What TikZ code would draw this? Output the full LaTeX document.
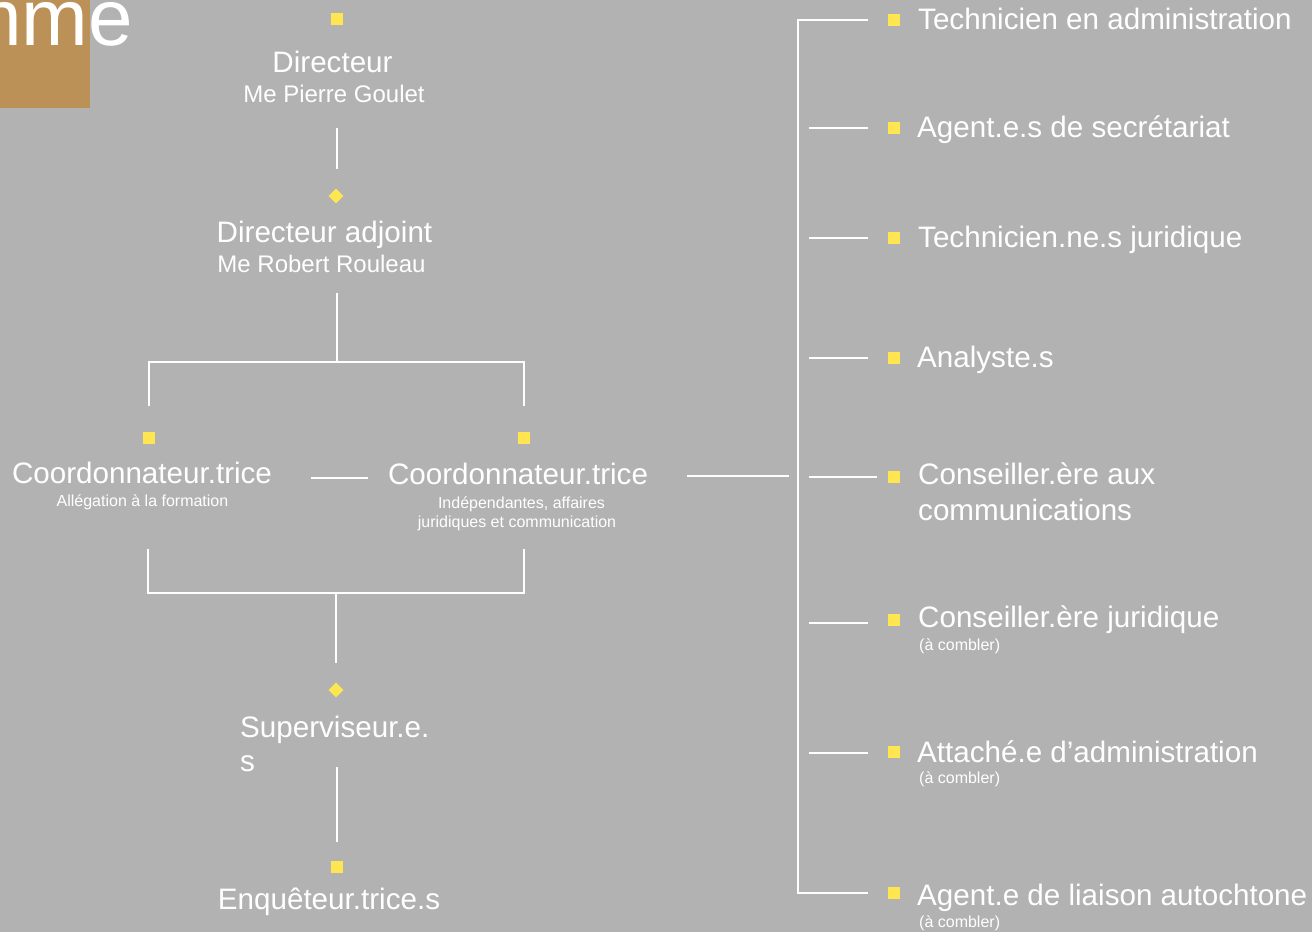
\documentclass[tikz,border=0pt]{standalone}
\usepackage{fontspec}
\setmainfont{Liberation Sans}
\usetikzlibrary{shapes.geometric}
\usetikzlibrary{positioning}

\definecolor{fond}{RGB}{178,178,178}
\definecolor{puce}{RGB}{255,230,80}
\definecolor{cuivre}{RGB}{188,145,88}

\begin{document}
\begin{tikzpicture}[x=1pt,y=-1pt]
        \tikzset{
          trait/.style={draw=white, line width=2.2pt},
          carre/.style={rectangle, fill=puce, inner sep=0pt, minimum size=12pt},
          losange/.style={diamond, fill=puce, inner sep=0pt, minimum size=15pt},
          titre/.style={text=white, inner sep=0pt, anchor=base, font=\fontsize{29.6}{35}\selectfont},
          nom/.style={text=white, inner sep=0pt, anchor=base, font=\fontsize{24}{28}\selectfont},
          note/.style={text=white, inner sep=0pt, anchor=base, font=\fontsize{16}{19}\selectfont},
        }
        \clip (0,0) rectangle (1312,932);
        \fill[fond] (0,0) rectangle (1312,932);
        \fill[cuivre] (0,0) rectangle (90,108);
        \node[text=white, inner sep=0pt, anchor=base east, font=\fontsize{80}{90}\selectfont] (entete) at (133,45) {mme};

        % colonne de gauche
        \node[carre] (p-dir) at (337,19) {};
        \node[titre] (dir) at (332.5,72) {Directeur};
        \node[nom] (dir-nom) at (334,102) {Me Pierre Goulet};
        \node[losange] (p-adj) at (336,196) {};
        \node[titre] (adj) at (324.5,242) {Directeur adjoint};
        \node[nom] (adj-nom) at (321.5,272) {Me Robert Rouleau};
        \node[carre] (p-ca) at (149,438) {};
        \node[carre] (p-cb) at (524,438) {};
        \node[titre] (ca) at (142,483) {Coordonnateur.trice};
        \node[note] (ca-note) at (142.5,506) {Allégation à la formation};
        \node[titre] (cb) at (518,484) {Coordonnateur.trice};
        \node[note] (cb-note1) at (521.5,508) {Indépendantes, affaires};
        \node[note] (cb-note2) at (517,527) {juridiques et communication};
        \node[losange] (p-sup) at (336,690) {};
        \node[titre, anchor=base west] (sup) at (240,737) {Superviseur.e.};
        \node[titre, anchor=base west] (sup2) at (240,771) {s};
        \node[carre] (p-enq) at (337,867) {};
        \node[titre] (enq) at (329,909) {Enquêteur.trice.s};

        \coordinate (dir-bas) at (337,128);
        \coordinate (adj-haut) at (337,169);
        \coordinate (adj-bas) at (337,293);
        \coordinate (fourche) at (337,362);
        \coordinate (ca-haut) at (149,406);
        \coordinate (cb-haut) at (524,406);
        \coordinate (ca-bas) at (148,549);
        \coordinate (cb-bas) at (524,549);
        \coordinate (jonction) at (336,593);
        \coordinate (sup-haut) at (336,663);
        \coordinate (sup-bas) at (337,767);
        \coordinate (enq-haut) at (337,842);
        \coordinate (lien-a) at (311,478);
        \coordinate (lien-b) at (368,478);
        \coordinate (cb-droite) at (687,476);
        \coordinate (cb-fin) at (789,476);

        \draw[trait] (dir-bas) -- (adj-haut);
        \draw[trait] (adj-bas) -- (fourche);
        \draw[trait] (ca-haut) |- (fourche) -| (cb-haut);
        \draw[trait] (lien-a) -- (lien-b);
        \draw[trait] (ca-bas) |- (jonction) -| (cb-bas);
        \draw[trait] (jonction) -- (sup-haut);
        \draw[trait] (sup-bas) -- (enq-haut);
        \draw[trait] (cb-droite) -- (cb-fin);

        % colonne de droite
        \node[carre] (r1) at (894,20) {};
        \node[carre] (r2) at (894,128) {};
        \node[carre] (r3) at (894,238) {};
        \node[carre] (r4) at (894,358) {};
        \node[carre] (r5) at (894,477) {};
        \node[carre] (r6) at (894,620) {};
        \node[carre] (r7) at (894,752) {};
        \node[carre] (r8) at (894,893) {};

        \node[titre, anchor=base west] (t1) at (918,29) {Technicien en administration};
        \node[titre, anchor=base west] (t2) at (917,137) {Agent.e.s de secrétariat};
        \node[titre, anchor=base west] (t3) at (918,247) {Technicien.ne.s juridique};
        \node[titre, anchor=base west] (t4) at (917,367) {Analyste.s};
        \node[titre, anchor=base west] (t5) at (918,484) {Conseiller.ère aux};
        \node[titre, anchor=base west] (t5b) at (918,520) {communications};
        \node[titre, anchor=base west] (t6) at (918,627) {Conseiller.ère juridique};
        \node[note, anchor=base west] (t6b) at (919,650) {(à combler)};
        \node[titre, anchor=base west] (t7) at (917,762) {Attaché.e d’administration};
        \node[note, anchor=base west] (t7b) at (919,783) {(à combler)};
        \node[titre, anchor=base west] (t8) at (917,905) {Agent.e de liaison autochtone};
        \node[note, anchor=base west] (t8b) at (919,927) {(à combler)};

        \coordinate (coin-haut) at (798,20);
        \coordinate (coin-bas) at (798,893);
        \coordinate (b2) at (809,128);
        \coordinate (b3) at (809,238);
        \coordinate (b4) at (809,358);
        \coordinate (b5) at (809,477);
        \coordinate (b6) at (809,623);
        \coordinate (b7) at (809,753);

        \draw[trait] ([xshift=-20pt]r1.west) -- (coin-haut) -- (coin-bas) -- ([xshift=-20pt]r8.west);
        \draw[trait, shorten >=20pt] (b2) -- (r2.west);
        \draw[trait, shorten >=20pt] (b3) -- (r3.west);
        \draw[trait, shorten >=20pt] (b4) -- (r4.west);
        \draw[trait, shorten >=11pt] (b5) -- (r5.west);
        \draw[trait, shorten >=20pt] (b6) -- (r6.west |- b6);
        \draw[trait, shorten >=20pt] (b7) -- (r7.west |- b7);
      \end{tikzpicture}
\end{document}
